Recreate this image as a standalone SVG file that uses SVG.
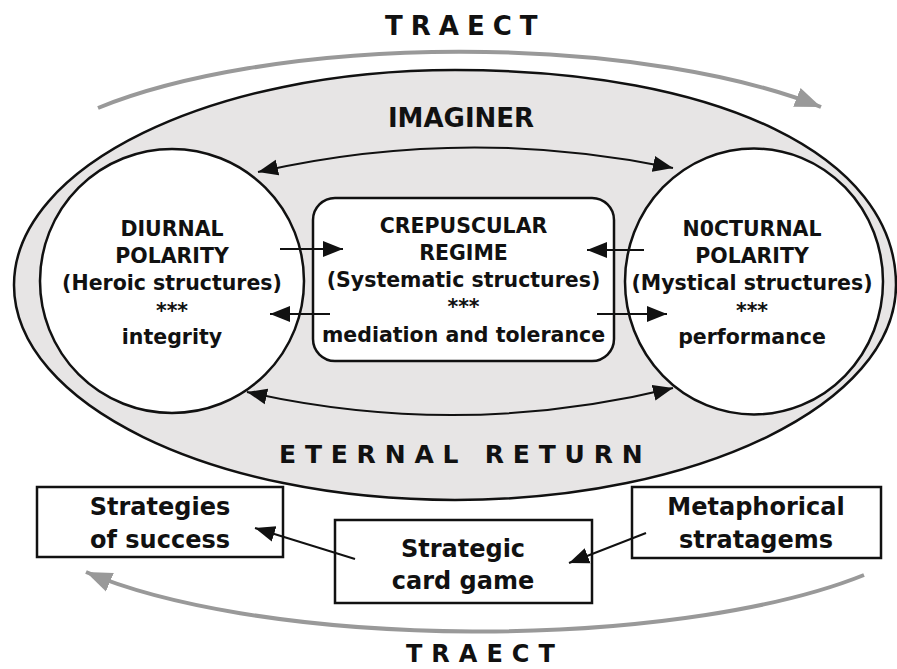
<svg xmlns="http://www.w3.org/2000/svg" width="897" height="669" viewBox="0 0 897 669">
<style>
  text { font-family: "DejaVu Sans", Verdana, sans-serif; font-weight: bold; fill: #111; }
  .node { fill: #fff; stroke: #111; stroke-width: 2.5; }
  .nt { font-size: 20.5px; text-anchor: middle; }
  .bt { font-size: 24px; text-anchor: middle; }
  .conn { fill: none; stroke: #111; stroke-width: 2; }
  .gray { fill: none; stroke: #999; stroke-width: 4; }
  .spaced { font-size: 26px; }
</style>
<defs>
  <marker id="ah" markerUnits="userSpaceOnUse" markerWidth="22" markerHeight="18" refX="20" refY="8" orient="auto-start-reverse" viewBox="0 0 22 16">
    <path d="M0,0 L20,8 L0,16 z" fill="#111"/>
  </marker>
  <marker id="gh" markerUnits="userSpaceOnUse" markerWidth="28" markerHeight="22" refX="26" refY="10" orient="auto" viewBox="0 0 28 20">
    <path d="M0,0 L26,10 L0,20 z" fill="#999"/>
  </marker>
</defs>
<rect width="897" height="669" fill="#fff"/>

<g id="traect-top">
  <text class="spaced" x="385" y="35" letter-spacing="8">TRAECT</text>
</g>

<g id="imaginer">
  <path d="M14,285 C14,166.3 211.4,70 455,70 C719.6,70 896,156 896,285 C896,403.7 698.6,500 455,500 C211.4,500 14,403.7 14,285 Z" fill="#e7e5e5" stroke="#111" stroke-width="2.5"/>
  <text x="461" y="127" font-size="26" text-anchor="middle">IMAGINER</text>
  <text x="279" y="463" font-size="25" letter-spacing="8.8">ETERNAL RETURN</text>
</g>

<g id="diurnal">
  <circle class="node" cx="172" cy="281" r="132"/>
  <text class="nt" x="172" y="236">DIURNAL</text>
  <text class="nt" x="172" y="263">POLARITY</text>
  <text class="nt" x="172" y="290">(Heroic structures)</text>
  <text class="nt" x="172" y="318">***</text>
  <text class="nt" x="172" y="344">integrity</text>
</g>

<g id="nocturnal">
  <ellipse class="node" cx="754" cy="281.5" rx="129" ry="133"/>
  <text class="nt" x="752" y="236">N0CTURNAL</text>
  <text class="nt" x="752" y="263">POLARITY</text>
  <text class="nt" x="752" y="290">(Mystical structures)</text>
  <text class="nt" x="752" y="318">***</text>
  <text class="nt" x="752" y="344">performance</text>
</g>

<g id="crepuscular">
  <rect class="node" x="313" y="198" width="301" height="163" rx="22"/>
  <text class="nt" x="463.5" y="233">CREPUSCULAR</text>
  <text class="nt" x="463.5" y="260">REGIME</text>
  <text class="nt" x="463.5" y="287">(Systematic structures)</text>
  <text class="nt" x="463.5" y="314">***</text>
  <text class="nt" x="463.5" y="342">mediation and tolerance</text>
</g>

<g id="strategies-of-success">
  <rect class="node" x="37" y="487" width="246" height="70"/>
  <text class="bt" x="160" y="515">Strategies</text>
  <text class="bt" x="160" y="548">of success</text>
</g>

<g id="strategic-card-game">
  <rect class="node" x="335" y="520" width="257" height="83"/>
  <text class="bt" x="463" y="557">Strategic</text>
  <text class="bt" x="463" y="589">card game</text>
</g>

<g id="metaphorical-stratagems">
  <rect class="node" x="632" y="487" width="249" height="71"/>
  <text class="bt" x="756" y="515">Metaphorical</text>
  <text class="bt" x="756" y="548">stratagems</text>
</g>

<g id="traect-bottom">
  <text x="406" y="662" font-size="24" letter-spacing="9">TRAECT</text>
</g>

<g id="connectors">
  <path class="gray" d="M98,108 A460,146 0 0,1 821,107" marker-end="url(#gh)"/>
  <path class="gray" d="M864,575 A470,132 0 0,1 86,572" marker-end="url(#gh)"/>
  <path class="conn" d="M258,172 Q465,125 673,168" marker-start="url(#ah)" marker-end="url(#ah)"/>
  <path class="conn" d="M247,392 Q460,440 673,388" marker-start="url(#ah)" marker-end="url(#ah)"/>
  <path class="conn" d="M280,249 L343,249" marker-end="url(#ah)"/>
  <path class="conn" d="M330,314 L270,314" marker-end="url(#ah)"/>
  <path class="conn" d="M644,250 L587,250" marker-end="url(#ah)"/>
  <path class="conn" d="M597,314 L667,314" marker-end="url(#ah)"/>
  <path class="conn" d="M355,559 L255,528" marker-end="url(#ah)"/>
  <path class="conn" d="M646,533 L569,563" marker-end="url(#ah)"/>
</g>
</svg>
